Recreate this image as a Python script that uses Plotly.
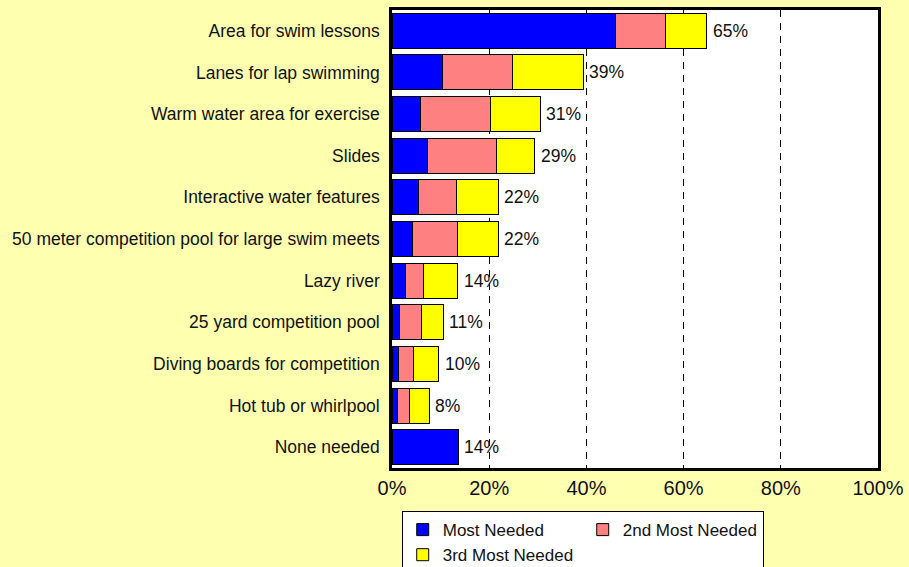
import plotly.graph_objects as go

categories = ["Area for swim lessons", "Lanes for lap swimming", "Warm water area for exercise",
              "Slides", "Interactive water features", "50 meter competition pool for large swim meets",
              "Lazy river", "25 yard competition pool", "Diving boards for competition",
              "Hot tub or whirlpool", "None needed"]
most_needed = [46.0, 10.3, 5.9, 7.4, 5.5, 4.3, 2.7, 1.6, 1.4, 1.2, 13.6]
second_needed = [10.2, 14.4, 14.3, 14.2, 7.8, 9.1, 3.8, 4.4, 3.1, 2.4, None]
third_needed = [8.6, 14.6, 10.3, 7.8, 8.6, 8.5, 7.0, 4.5, 5.1, 4.1, None]
total_labels = ["65%", "39%", "31%", "29%", "22%", "22%", "14%", "11%", "10%", "8%", "14%"]
x_ticks = [0, 20, 40, 60, 80, 100]
x_tick_labels = ["0%", "20%", "40%", "60%", "80%", "100%"]

series = [("Most Needed", most_needed, "#0000FF"),
          ("2nd Most Needed", second_needed, "#FF8080"),
          ("3rd Most Needed", third_needed, "#FFFF00")]

FONT = "Liberation Sans, Arial, Helvetica, sans-serif"
BG = "#FFFFB0"
TXT = "#111111"

fig = go.Figure()
for name, vals, col in series:
    fig.add_trace(go.Bar(y=categories, x=vals, name=name, orientation="h",
                         marker=dict(color=col, line=dict(color="#000000", width=1)),
                         hoverinfo="skip"))

totals = [sum(v for v in (a, b, c) if v is not None)
          for a, b, c in zip(most_needed, second_needed, third_needed)]
for cat, tot, lab in zip(categories, totals, total_labels):
    fig.add_annotation(x=tot, y=cat, text=lab, showarrow=False, xanchor="left",
                       xshift=4, font=dict(size=17.5, color=TXT, family=FONT))

fig.update_layout(
    width=909, height=567,
    barmode="stack", bargap=0.16,
    paper_bgcolor=BG, plot_bgcolor="#FFFFFF",
    margin=dict(l=392, r=31, t=10, b=99, autoexpand=False),
    font=dict(family=FONT, size=17.5, color=TXT),
    showlegend=True,
    legend=dict(orientation="h", x=0.02, y=-0.094, xanchor="left", yanchor="top",
                bgcolor="#FFFFFF", bordercolor="#000000", borderwidth=1,
                font=dict(size=17, family=FONT, color=TXT),
                entrywidth=135, traceorder="normal", tracegroupgap=0,
                itemclick=False),
    xaxis=dict(range=[0, 100], tickmode="array", tickvals=x_ticks, ticktext=x_tick_labels,
               showgrid=True, gridcolor="#000000", gridwidth=1, griddash="7px,6px",
               zeroline=False, showline=True, linecolor="#000000", linewidth=2.5,
               mirror=True, ticks="", tickfont=dict(size=20, family=FONT, color=TXT),
               fixedrange=True),
    yaxis=dict(autorange="reversed", showgrid=False, zeroline=False,
               showline=True, linecolor="#000000", linewidth=2.5, mirror=True,
               ticks="", ticklabelstandoff=6,
               tickfont=dict(size=17.5, family=FONT, color=TXT), fixedrange=True),
)

fig.write_html("out.html", config={"displayModeBar": False},
               post_script="document.body.style.margin='0';document.body.style.padding='0';"
                           "document.body.style.background='" + BG + "';")
